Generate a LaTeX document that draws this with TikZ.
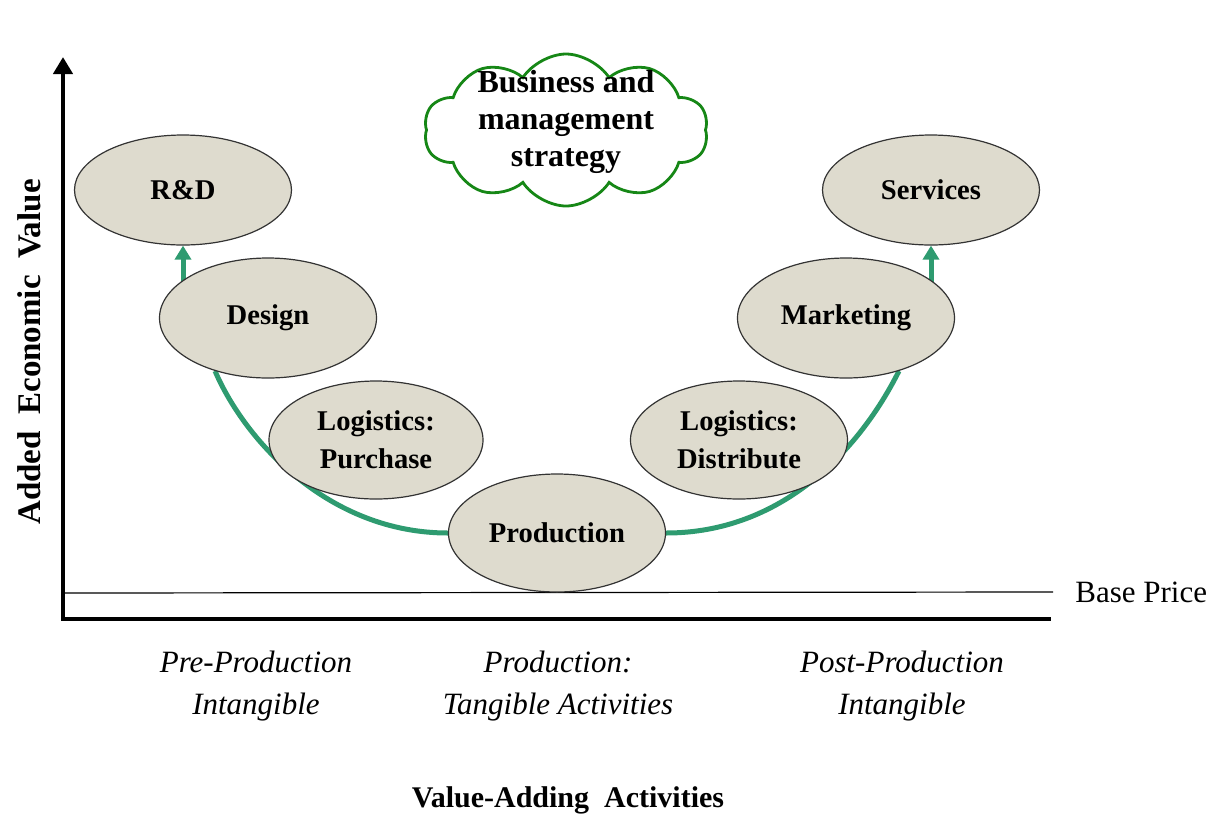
\documentclass[tikz,border=0pt]{standalone}
\usepackage{fontspec}
\setmainfont{Liberation Serif}
\usetikzlibrary{shapes.geometric,shapes.symbols,arrows.meta,backgrounds}
\definecolor{stagefill}{RGB}{222,219,206}
\definecolor{curvegreen}{RGB}{46,155,112}
\definecolor{cloudgreen}{RGB}{22,135,22}

\begin{document}
\begin{tikzpicture}[x=0.5pt,y=-0.5pt,
  stage/.style={ellipse, draw=black!80, line width=0.6pt, fill=stagefill, minimum width=108.5pt, minimum height=59pt, inner sep=0pt, align=center, font=\fontsize{14.3}{19}\selectfont\bfseries},
  flow/.style={draw=curvegreen, line width=2.5pt},
  rise/.style={flow, -{Triangle[length=7pt,width=8pt]}},
  axis/.style={line width=2.3pt},
  phase/.style={align=center, inner sep=0pt, font=\fontsize{15.5}{21}\selectfont\itshape}]
\useasboundingbox (0,0) rectangle (1212,816);

% axes and base price line
\coordinate (ytop) at (63,57);
\coordinate (origin) at (63,619);
\coordinate (xend) at (1051,619);
\coordinate (bp0) at (63,593);
\draw[axis, {Triangle[length=8.5pt,width=9.5pt]}-] (ytop) -- (origin) -- (xend);
\node[anchor=west, inner sep=0pt, font=\fontsize{15.5}{18}\selectfont] (baseprice) at (1075,592) {Base Price};
\draw[line width=0.6pt] (bp0) -- ([xshift=-11pt]baseprice.west);

% smile curve stages
\node[stage, minimum height=55pt] (rd) at (183,190) {R\&D};
\node[stage, minimum height=60pt] (design) at (268,318) {Design};
\node[stage, minimum width=107pt] (purchase) at (376,440) {Logistics:\\Purchase};
\node[stage] (prod) at (557,533) {Production};
\node[stage] (distrib) at (739,440) {Logistics:\\Distribute};
\node[stage, minimum height=60pt] (mkt) at (846,318) {Marketing};
\node[stage, minimum height=55pt] (svc) at (931,190) {Services};

% strategy cloud
\node[cloud, cloud puffs=10, cloud puff arc=115, cloud ignores aspect, draw=cloudgreen, line width=1.4pt, fill=white, minimum width=142pt, minimum height=76pt] (strategy) at (566,130) {};
\node[align=center, inner sep=0pt, font=\fontsize{16}{18.5}\selectfont\bfseries] (strategytext) at (566,122) {Business and\\management\\strategy};

% green curve behind the stages
\begin{scope}[on background layer]
\draw[flow] (design.225) .. controls +(30,70) and +(-119,0) .. (prod.west);
\draw[flow] (prod.east) .. controls +(115,0) and +(-40,80) .. (mkt.315);
\draw[rise] (rd.south |- design.center) -- (rd.south);
\draw[rise] (svc.south |- mkt.center) -- (svc.south);
\end{scope}

% axis labels
\node[rotate=90, inner sep=0pt, font=\fontsize{16.5}{18}\selectfont\bfseries] (ylabel) at (29,352) {Added\ \ Economic\ \ Value};
\node[phase] (pre) at (256,686) {Pre-Production\\Intangible};
\node[phase] (mid) at (558,686) {Production:\\Tangible Activities};
\node[phase] (post) at (902,686) {Post-Production\\Intangible};
\node[inner sep=0pt, font=\fontsize{15}{18}\selectfont\bfseries] (xlabel) at (568,800) {Value-Adding\ \ Activities};
\end{tikzpicture}
\end{document}
